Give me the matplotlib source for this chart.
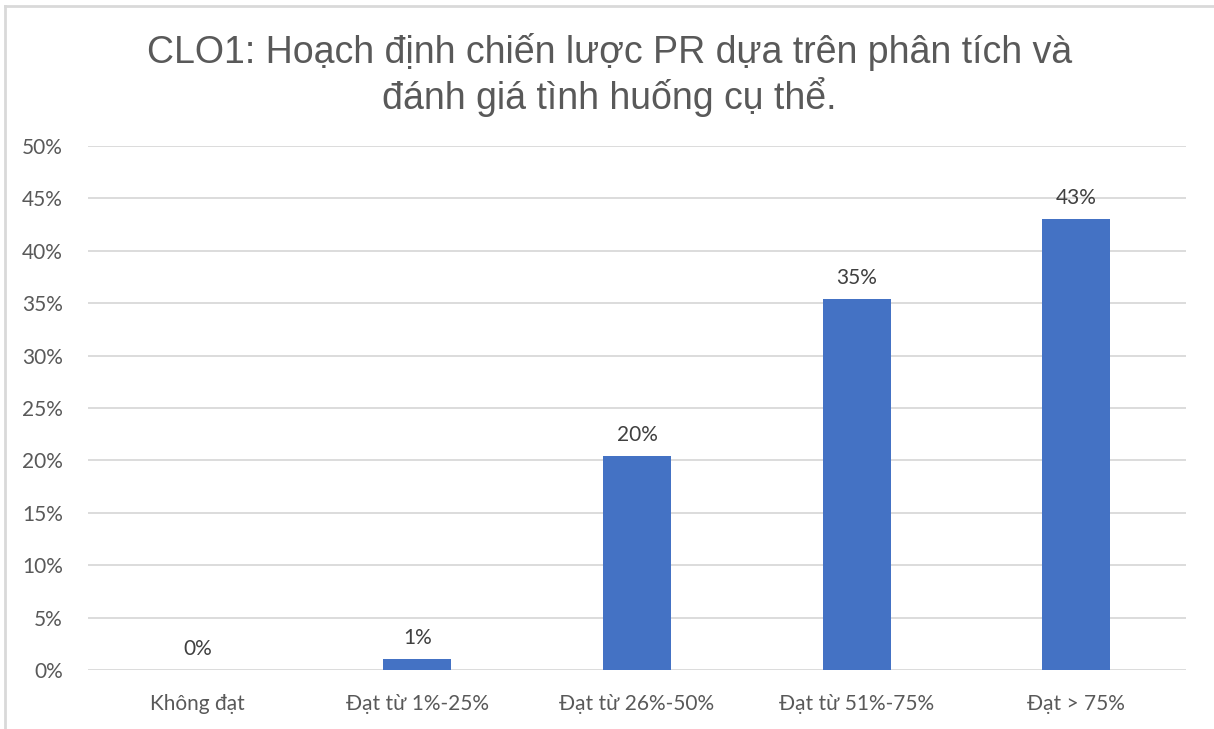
import matplotlib.pyplot as plt
from matplotlib.lines import Line2D
from matplotlib.ticker import PercentFormatter

# dữ liệu
categories = ['Không đạt', 'Đạt từ 1%-25%', 'Đạt từ 26%-50%', 'Đạt từ 51%-75%', 'Đạt > 75%']
values = [0.0, 0.0102, 0.204, 0.354, 0.430]
labels = ['0%', '1%', '20%', '35%', '43%']

title = 'CLO1: Hoạch định chiến lược PR dựa trên phân tích và\nđánh giá tình huống cụ thể.'

text_color = '#595959'
grid_color = '#d9d9d9'
bar_color = '#4472c4'

fig = plt.figure(figsize=(12.14, 7.29), dpi=100)
ax = fig.add_axes([88 / 1214, 59 / 729, 1098 / 1214, 524 / 729])

x = range(len(categories))
ax.bar(x, values, width=0.31, color=bar_color, zorder=3)

for xi, v, lab in zip(x, values, labels):
    ax.annotate(lab, (xi, v), xytext=(0, 8), textcoords='offset points',
                ha='center', va='bottom', fontsize=15, color='#404040', family='Lato')

ax.set_xlim(-0.5, len(categories) - 0.5)
ax.set_ylim(0, 0.5)
ax.set_yticks([i * 0.05 for i in range(11)])
ax.yaxis.set_major_formatter(PercentFormatter(1.0, decimals=0))
ax.set_xticks(list(x))
ax.set_xticklabels(categories)
ax.grid(axis='y', color=grid_color, linewidth=1.3, zorder=0)
ax.tick_params(length=0, labelsize=15, labelcolor=text_color)
ax.tick_params(axis='x', pad=17)
ax.tick_params(axis='y', pad=18)
for lab in ax.get_xticklabels() + ax.get_yticklabels():
    lab.set_family('Lato')
for s in ax.spines.values():
    s.set_visible(False)

fig.text(0.502, 0.897, title, ha='center', va='center', fontsize=27,
         color=text_color, family='Liberation Sans', linespacing=1.2)

# khung viền
fig.add_artist(Line2D([5 / 1214, 1.0], [1 - 6 / 729, 1 - 6 / 729], color=grid_color, lw=2,
                      transform=fig.transFigure))
fig.add_artist(Line2D([5 / 1214, 5 / 1214], [0, 1 - 6 / 729], color=grid_color, lw=2,
                      transform=fig.transFigure))

fig.savefig('out.png', dpi=100)
